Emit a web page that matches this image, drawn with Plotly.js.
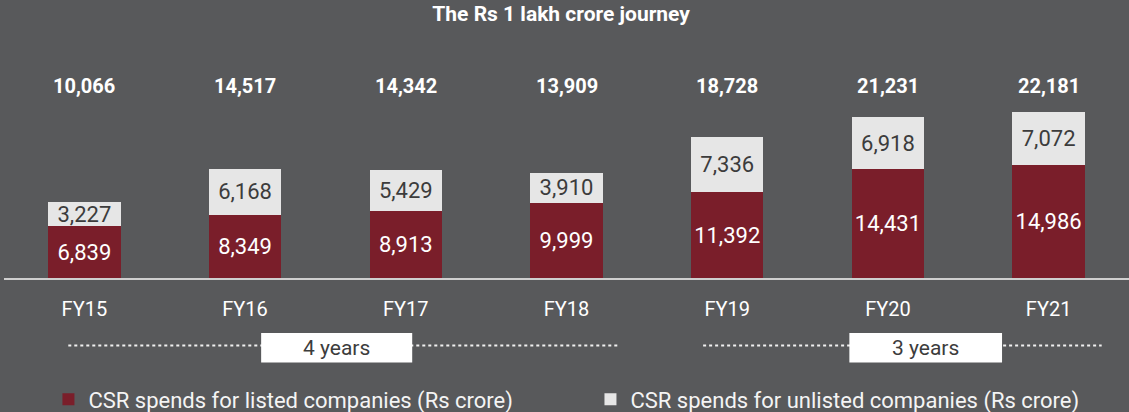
<!DOCTYPE html>
<html>
<head>
<meta charset="utf-8">
<script src="https://cdn.plot.ly/plotly-3.0.1.min.js"></script>
<style>html,body{margin:0;padding:0;background:#58595b;}#chart{width:1129px;height:412px;}</style>
</head>
<body>
<div id="chart"></div>
<script>
const categories = ["FY15","FY16","FY17","FY18","FY19","FY20","FY21"];
const listed = [6839, 8349, 8913, 9999, 11392, 14431, 14986];
const unlisted = [3227, 6168, 5429, 3910, 7336, 6918, 7072];
const totals = [10066, 14517, 14342, 13909, 18728, 21231, 22181];
const periodLabels = ["4 years", "3 years"];

const FONT = "Roboto, 'Liberation Sans', sans-serif";
const BG = "#58595b";
const RED = "#7a1e2a";
const LIGHT = "#e6e6e6";

const traces = [
  {
    type: "bar", name: "CSR spends for listed companies (Rs crore)", legend: "legend",
    x: categories, y: listed, marker: {color: RED},
    texttemplate: "%{y:,}", textposition: "inside", insidetextanchor: "middle",
    textfont: {family: FONT, size: 22, color: "#ffffff"}, hoverinfo: "skip"
  },
  {
    type: "bar", name: "CSR spends for unlisted companies (Rs crore)", legend: "legend2",
    x: categories, y: unlisted, marker: {color: LIGHT},
    texttemplate: "%{y:,}", textposition: "inside", insidetextanchor: "middle",
    textfont: {family: FONT, size: 22, color: "#3c3c3c"}, hoverinfo: "skip"
  }
];

const annotations = categories.map((c, i) => ({
  x: c, y: 25500, xref: "x", yref: "y", text: "<b>" + totals[i].toLocaleString("en-US") + "</b>",
  showarrow: false, font: {family: FONT, size: 20, color: "#ffffff"}, yanchor: "middle"
}));

// period spans (category index units)
const spans = [
  {x0: -0.10, x1: 3.33, b0: 1.10, b1: 2.04, label: periodLabels[0]},
  {x0: 3.85, x1: 6.33, b0: 4.76, b1: 5.71, label: periodLabels[1]}
];
const shapes = [];
spans.forEach(s => {
  shapes.push({type: "line", xref: "x", yref: "paper", x0: s.x0, x1: s.x1, y0: -0.345, y1: -0.345,
    line: {color: "#f0f0f0", width: 2, dash: "dot"}});
  shapes.push({type: "rect", xref: "x", yref: "paper", x0: s.b0, x1: s.b1, y0: -0.281, y1: -0.431,
    fillcolor: "#ffffff", line: {width: 0}});
  annotations.push({x: (s.b0 + s.b1) / 2, y: -0.356, xref: "x", yref: "paper", text: s.label,
    showarrow: false, font: {family: FONT, size: 21, color: "#3c3c3c"}, yanchor: "middle"});
});

const legendBase = {orientation: "h", xanchor: "left", y: -0.62, yanchor: "middle",
  font: {family: FONT, size: 22, color: "#f4f4f4"}, bgcolor: "rgba(0,0,0,0)", itemwidth: 30};

const layout = {
  width: 1129, height: 412,
  paper_bgcolor: BG, plot_bgcolor: BG,
  margin: {l: 4, r: 0, t: 82, b: 134, autoexpand: false},
  barmode: "stack", bargap: 0.55,
  title: {text: "<b>The Rs 1 lakh crore journey</b>", x: 0.497, xanchor: "center",
    y: 1 - 13.5 / 412, yref: "container", yanchor: "middle",
    font: {family: FONT, size: 21, color: "#ffffff"}},
  xaxis: {type: "category", range: [-0.5, 6.5], showgrid: false, zeroline: false,
    showline: true, linecolor: "#cfcfcf", linewidth: 2,
    ticks: "", ticklabelstandoff: 12,
    tickfont: {family: FONT, size: 20, color: "#ffffff"}, fixedrange: true},
  yaxis: {range: [0, 26000], visible: false, fixedrange: true},
  uniformtext: {minsize: 22, mode: "show"},
  showlegend: true,
  legend: Object.assign({}, legendBase, {x: 0.0395}),
  legend2: Object.assign({}, legendBase, {x: 0.5213}),
  annotations: annotations, shapes: shapes
};

Plotly.newPlot("chart", traces, layout, {displayModeBar: false, staticPlot: true});
</script>
</body>
</html>
